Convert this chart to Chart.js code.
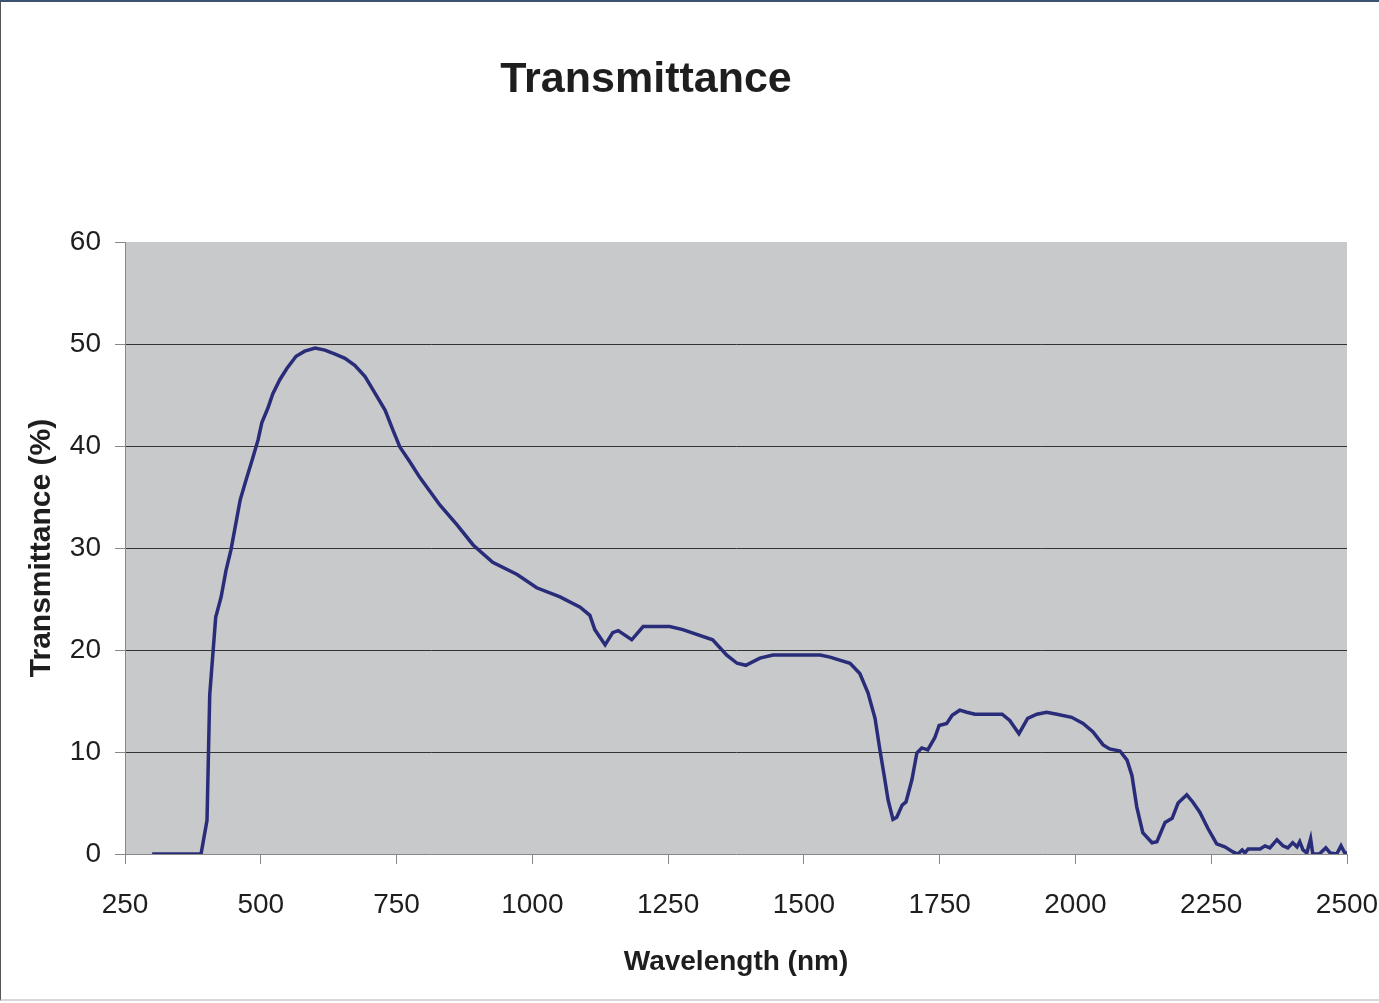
<!DOCTYPE html>
<html lang="en">

<head>
    <meta charset="UTF-8">
    <title>Transmittance</title>
    <script src="https://cdn.jsdelivr.net/npm/chart.js@4.4.1/dist/chart.umd.min.js"></script>
    <style>
        body { margin: 0; background: #fff; }
        #wrap { position: relative; width: 1379px; height: 1003px; }
        #frame {
            position: absolute; left: 0; top: 0; width: 1379px; height: 1001px;
            box-sizing: border-box; border-top: 2px solid #3b5270; border-left: 1px solid #555;
            border-bottom: 2px solid #d8d8d8; pointer-events: none;
        }
    </style>
</head>

<body>
    <div id="wrap">
        <canvas id="myChart" width="1379" height="1003"></canvas>
        <div id="frame"></div>
    </div>

    <script>
        // wavelength (nm) and transmittance (%)
        const wavelengths = [300, 390, 401, 406, 417, 427, 436, 445, 452, 462, 473, 484, 495, 502, 513, 522,
            535, 548, 565, 581, 600, 618, 637, 655, 673, 692, 710, 729, 743, 756, 775, 793, 830, 861, 891, 927,
            972, 1008, 1051, 1088, 1106, 1115, 1134, 1148, 1158, 1183, 1204, 1253, 1277, 1332, 1358, 1377, 1393,
            1419, 1443, 1469, 1505, 1530, 1548, 1585, 1603, 1618, 1631, 1640, 1649, 1655, 1664, 1671, 1681, 1688,
            1699, 1708, 1717, 1728, 1741, 1749, 1763, 1773, 1787, 1800, 1815, 1865, 1879, 1896, 1912, 1929, 1947,
            1966, 1993, 2014, 2032, 2051, 2063, 2082, 2095, 2104, 2113, 2124, 2141, 2150, 2165, 2178, 2189, 2205,
            2216, 2229, 2244, 2260, 2275, 2290, 2299, 2307, 2312, 2318, 2340, 2349, 2358, 2371, 2382, 2391, 2400,
            2408, 2413, 2419, 2426, 2433, 2437, 2449, 2461, 2469, 2481, 2489, 2496, 2500];
        const transmittance = [0, 0, 3.3, 15.6, 23.2, 25.2, 27.8, 29.8, 31.8, 34.7, 36.7, 38.6, 40.6, 42.3, 43.7, 45.1,
            46.5, 47.6, 48.8, 49.3, 49.6, 49.4, 49.0, 48.6, 47.9, 46.8, 45.2, 43.5, 41.6, 39.9, 38.4, 36.9, 34.2, 32.3, 30.3, 28.6,
            27.4, 26.1, 25.2, 24.2, 23.4, 22.0, 20.5, 21.7, 21.9, 21.0, 22.3, 22.3, 22.0, 21.0, 19.5, 18.7, 18.5,
            19.2, 19.5, 19.5, 19.5, 19.5, 19.3, 18.7, 17.7, 15.8, 13.3, 10.2, 7.3, 5.3, 3.4, 3.6, 4.8, 5.1,
            7.3, 9.9, 10.4, 10.2, 11.4, 12.6, 12.8, 13.6, 14.1, 13.9, 13.7, 13.7, 13.1, 11.8, 13.3, 13.7, 13.9,
            13.7, 13.4, 12.8, 12.0, 10.7, 10.3, 10.1, 9.2, 7.7, 4.6, 2.1, 1.1, 1.2, 3.1, 3.5, 5.0, 5.8,
            5.1, 4.1, 2.5, 1.0, 0.7, 0.2, 0.0, 0.4, 0.1, 0.5, 0.5, 0.8, 0.6, 1.4, 0.8, 0.6, 1.1,
            0.7, 1.2, 0.4, 0.1, 1.5, 0, 0, 0.6, 0.1, 0, 0.8, 0.1, 0.1];
        const yTicks = [0, 10, 20, 30, 40, 50, 60];

        const points = wavelengths.map((w, i) => ({ x: w, y: transmittance[i] }));
        const fontFamily = "'Liberation Sans', Arial, sans-serif";

        // grey plot area + chart title
        const backdrop = {
            id: 'backdrop',
            beforeDraw(chart) {
                const { ctx, chartArea: a } = chart;
                ctx.save();
                ctx.fillStyle = '#c8c9cb';
                ctx.fillRect(a.left, a.top, a.right - a.left, a.bottom - a.top);
                ctx.fillStyle = '#1e1e1e';
                ctx.font = 'bold 43px ' + fontFamily;
                ctx.textAlign = 'center';
                ctx.textBaseline = 'middle';
                ctx.fillText('Transmittance', 646, 80);
                ctx.restore();
            }
        };

        new Chart(document.getElementById('myChart'), {
            type: 'line',
            data: {
                datasets: [{
                    label: 'Transmittance',
                    data: points,
                    borderColor: '#292c78',
                    borderWidth: 3.5,
                    pointRadius: 0,
                    tension: 0,
                    fill: false
                }]
            },
            options: {
                responsive: false,
                animation: false,
                layout: { padding: { top: 242, right: 0, left: 0, bottom: 0 } },
                plugins: { legend: { display: false }, tooltip: { enabled: false } },
                scales: {
                    x: {
                        type: 'linear',
                        min: 250,
                        max: 2500,
                        ticks: {
                            stepSize: 250, color: '#1e1e1e', padding: 24, maxRotation: 0,
                            font: { size: 28, family: fontFamily },
                            callback: v => String(v)
                        },
                        grid: { drawOnChartArea: false, tickLength: 10, color: '#888', tickColor: '#888' },
                        border: { color: '#888', width: 1 },
                        title: {
                            display: true, text: 'Wavelength (nm)', color: '#1e1e1e',
                            font: { size: 28, weight: 'bold', family: fontFamily },
                            padding: { top: 0, bottom: 24 }
                        },
                        afterFit(scale) {
                            scale.height = 149;
                            scale.paddingLeft = 0;
                            scale.paddingRight = 32;
                        }
                    },
                    y: {
                        min: 0,
                        max: 60,
                        afterBuildTicks(scale) { scale.ticks = yTicks.map(v => ({ value: v })); },
                        ticks: { color: '#1e1e1e', padding: 14, font: { size: 28, family: fontFamily } },
                        grid: {
                            tickLength: 10,
                            color: ctx => (ctx.tick && (ctx.tick.value === 0 || ctx.tick.value === 60)) ? 'rgba(0,0,0,0)' : '#333',
                            tickColor: '#888'
                        },
                        border: { color: '#888', width: 1 },
                        title: {
                            display: true, text: 'Transmittance (%)', color: '#1e1e1e',
                            font: { size: 30, weight: 'bold', family: fontFamily },
                            padding: { top: 24, bottom: 0 }
                        },
                        afterFit(scale) {
                            scale.width = 125;
                            scale.paddingTop = 0;
                            scale.paddingBottom = 0;
                        }
                    }
                }
            },
            plugins: [backdrop]
        });
    </script>
</body>

</html>
